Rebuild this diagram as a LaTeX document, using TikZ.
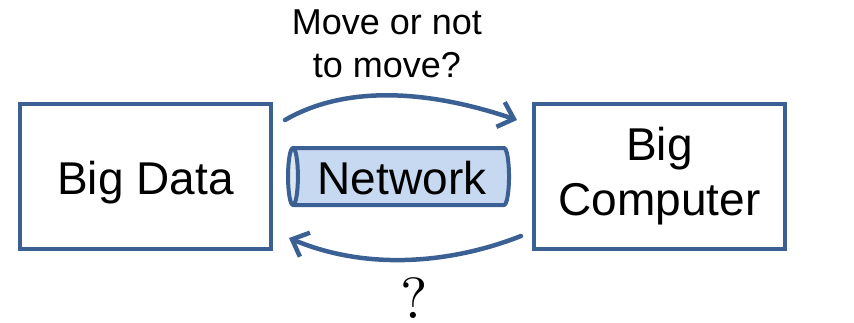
\documentclass[tikz,border=0pt]{standalone}
\usepackage{fontspec}
\setmainfont{Liberation Sans}
\newfontfamily\qfont{lmroman10-regular.otf}
\usetikzlibrary{arrows.meta,shapes.geometric}
\definecolor{edgeblue}{RGB}{59,96,148}
\definecolor{pipefill}{RGB}{198,217,241}
\definecolor{pipeend}{RGB}{220,230,242}
\tikzset{
  box/.style={draw=edgeblue, line width=4pt, fill=white, inner sep=0pt,
    minimum width=251pt, minimum height=145pt,
    font=\fontsize{46}{55}\selectfont},
  pipe/.style={cylinder, shape border rotate=180, aspect=0.22,
    draw=edgeblue, line width=4pt, line join=round,
    cylinder uses custom fill, cylinder body fill=pipefill, cylinder end fill=pipeend,
    minimum width=57pt, minimum height=221pt, inner sep=0pt,
    text height=40pt, text depth=5pt,
    font=\fontsize{46}{55}\selectfont},
  flow/.style={draw=edgeblue, line width=4.5pt, line cap=round,
    -{Straight Barb[length=14pt, width=26pt, line width=4.5pt]}},
}
\begin{document}
\begin{tikzpicture}[x=1pt, y=1pt]
  \useasboundingbox (0,0) rectangle (854,322);

  % the two endpoints
  \node[box, text height=40pt, text depth=5pt] (bd) at (145.5,145.5) {Big Data};
  \node[box, align=center] (bc) at (659.5,145.5) {Big\\Computer};

  % the link between them
  \node[pipe] (net) at (402,145.5) {Network};

  % data to computer, and back
  \draw[flow] ([shift={(12,-18)}]bd.north east)
    .. controls (335,231) and (410,238) .. ([shift={(-15,-18)}]bc.north west);
  \draw[flow] ([shift={(-11,15)}]bc.south west)
    .. controls (455,60) and (370,50) .. ([shift={(16,13)}]bd.south east);

  % labels
  \node[anchor=north, inner sep=0pt, align=center,
        font=\fontsize{36}{43}\selectfont] (q1) at (387,312) {Move or not\\to move?};
  \node[anchor=north, inner sep=0pt, font=\qfont\fontsize{58}{60}\selectfont]
        (q2) at (414,45) {?};
\end{tikzpicture}
\end{document}
